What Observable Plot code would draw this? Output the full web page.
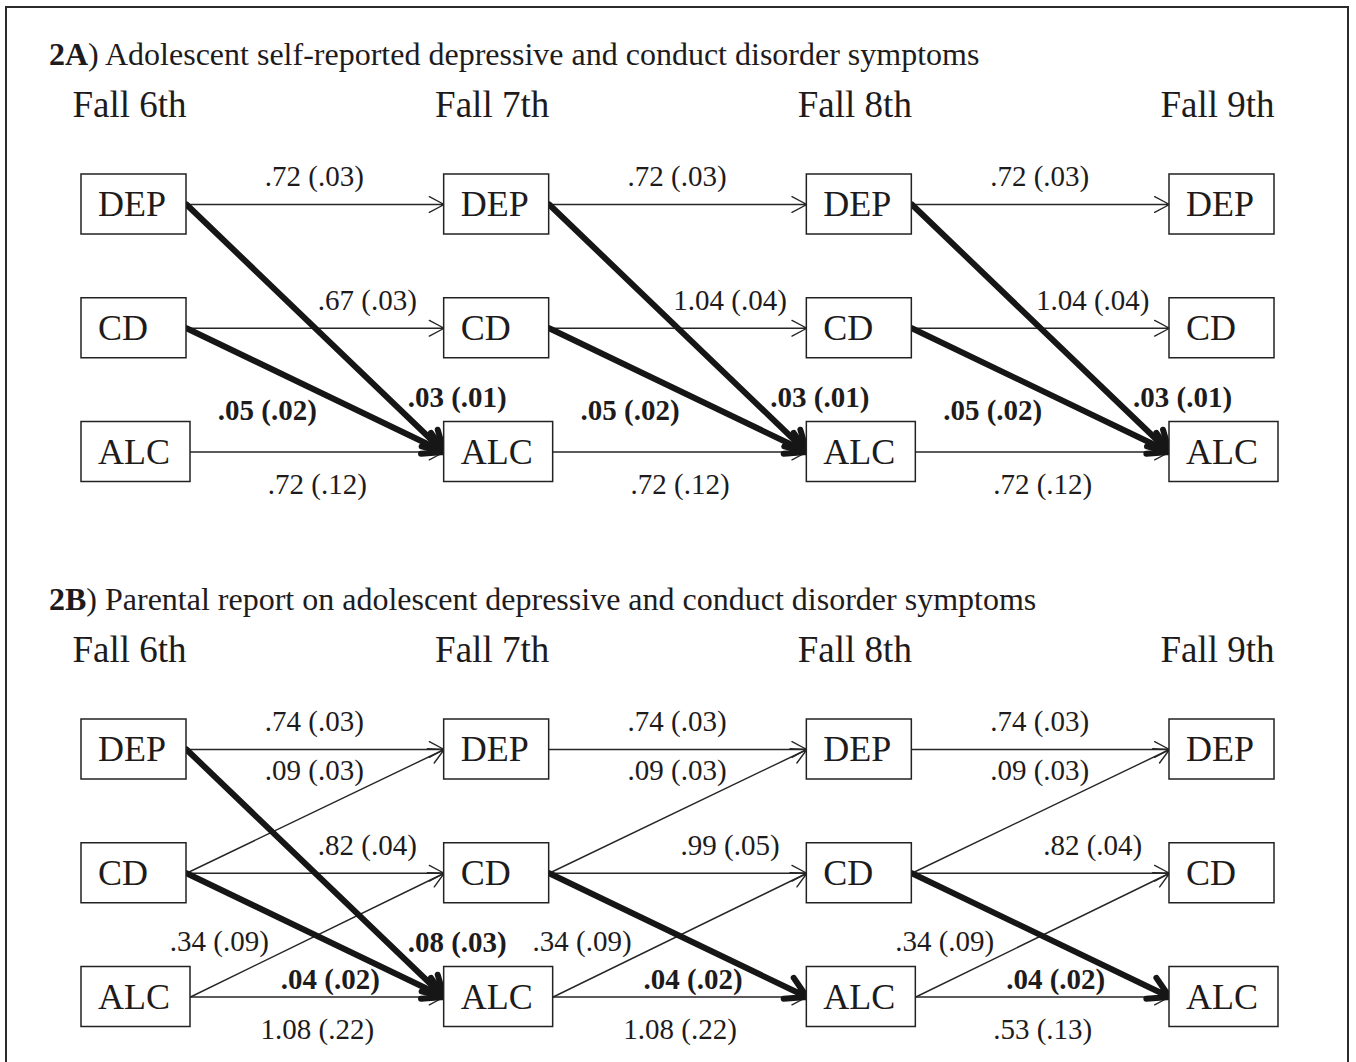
<!DOCTYPE html>
<html>
<head>
<meta charset="utf-8">
<script src="https://cdn.jsdelivr.net/npm/d3@7"></script>
<script src="https://cdn.jsdelivr.net/npm/@observablehq/plot@0.6"></script>
<style>
  body { margin: 0; background: #fff; }
  #page { position: relative; width: 1356px; height: 1062px; overflow: hidden; background: #fff;
          font-family: "Liberation Serif", "Times New Roman", serif; color: #1e1b1c; }
  .frame { position: absolute; left: 5px; top: 6px; width: 1340px; height: 1200px;
           border: 2px solid #2b2b2b; border-bottom: none; pointer-events: none; }
  .panel { position: absolute; left: 0; width: 1356px; }
  .title { height: 70px; box-sizing: border-box; padding-top: 38px; padding-left: 49px;
           font-size: 32px; line-height: 32px; white-space: nowrap; }
  .panel svg { display: block; }
</style>
</head>
<body>
<div id="page"><div class="frame"></div></div>
<script>
// ---------------- data ----------------
const waves = ["Fall 6th", "Fall 7th", "Fall 8th", "Fall 9th"];
const variables = ["DEP", "CD", "ALC"];

// Panel 2A: adolescent self-report (estimate, standard error) for lags 6th→7th, 7th→8th, 8th→9th
const titleA = "Adolescent self-reported depressive and conduct disorder symptoms";
const aDepDep = {est: [0.72, 0.72, 0.72], se: [0.03, 0.03, 0.03]};
const aCdCd   = {est: [0.67, 1.04, 1.04], se: [0.03, 0.04, 0.04]};
const aAlcAlc = {est: [0.72, 0.72, 0.72], se: [0.12, 0.12, 0.12]};
const aDepAlc = {est: [0.03, 0.03, 0.03], se: [0.01, 0.01, 0.01]};
const aCdAlc  = {est: [0.05, 0.05, 0.05], se: [0.02, 0.02, 0.02]};

// Panel 2B: parental report
const titleB = "Parental report on adolescent depressive and conduct disorder symptoms";
const bDepDep = {est: [0.74, 0.74, 0.74], se: [0.03, 0.03, 0.03]};
const bCdDep  = {est: [0.09, 0.09, 0.09], se: [0.03, 0.03, 0.03]};
const bCdCd   = {est: [0.82, 0.99, 0.82], se: [0.04, 0.05, 0.04]};
const bAlcCd  = {est: [0.34, 0.34, 0.34], se: [0.09, 0.09, 0.09]};
const bAlcAlc = {est: [1.08, 1.08, 0.53], se: [0.22, 0.22, 0.13]};
const bDepAlc = {est: [0.08, null, null], se: [0.03, null, null]};
const bCdAlc  = {est: [0.04, 0.04, 0.04], se: [0.02, 0.02, 0.02]};

// ---------------- layout helpers ----------------
const PX = 3 / (1169 - 81);            // x data units per pixel
const RY = 1 / 123.75;                 // row units per pixel
const boxW = v => (v === "ALC" ? 109 : 105) * PX;
const boxH = 30 * RY;
const row = v => variables.indexOf(v);
const fmt = v => v.toFixed(2).replace(/^0\./, ".");
const FONT = "Liberation Serif, Times New Roman, serif";
const INK = "#1e1b1c";

const panels = [
  {id: "2A", title: titleA, top: 0, paths: [
    {from: "DEP", to: "DEP", ...aDepDep},
    {from: "CD", to: "CD", ...aCdCd},
    {from: "ALC", to: "ALC", ...aAlcAlc},
    {from: "DEP", to: "ALC", sig: true, ...aDepAlc},
    {from: "CD", to: "ALC", sig: true, ...aCdAlc}
  ], cdAlc: {dx: -48, dy: -41.5}},
  {id: "2B", title: titleB, top: 545, paths: [
    {from: "DEP", to: "DEP", ...bDepDep},
    {from: "CD", to: "DEP", ...bCdDep},
    {from: "CD", to: "CD", ...bCdCd},
    {from: "ALC", to: "CD", ...bAlcCd},
    {from: "ALC", to: "ALC", ...bAlcAlc},
    {from: "DEP", to: "ALC", sig: true, ...bDepAlc},
    {from: "CD", to: "ALC", sig: true, ...bCdAlc}
  ], cdAlc: {dx: 15, dy: -17.5}}
];

function buildEdges(paths) {
  const edges = [];
  for (const p of paths) {
    for (let i = 0; i < waves.length - 1; i++) {
      if (p.est[i] == null) continue;
      edges.push({
        kind: p.from + ">" + p.to, sig: !!p.sig, lag: i,
        label: `${fmt(p.est[i])} (${fmt(p.se[i])})`,
        x1: i + boxW(p.from), y1: row(p.from), x2: i + 1, y2: row(p.to),
        mid: i + (boxW("DEP") + 1) / 2
      });
    }
  }
  return edges;
}

const nodes = waves.flatMap((w, i) => variables.map(v => ({wave: w, i, v})));

function panelPlot(panel) {
  const edges = buildEdges(panel.paths);
  const placement = {
    "DEP>DEP": {x: "mid", row: "DEP", dx: -1, dy: -28},
    "CD>CD":   {x: "mid", row: "CD", dx: 52, dy: -28},
    "ALC>ALC": {x: "mid", row: "ALC", dx: 2, dy: 33},
    "CD>DEP":  {x: "mid", row: "DEP", dx: -1, dy: 21},
    "ALC>CD":  {x: "mid", row: "ALC", dx: -96, dy: -55.5},
    "DEP>ALC": {x: "x2", row: "ALC", dx: 13, dy: -54.5},
    "CD>ALC":  {x: "mid", row: "ALC", ...panel.cdAlc}
  };
  const labelMarks = Object.entries(placement).map(([kind, p]) => {
    const sel = edges.filter(e => e.kind === kind);
    return Plot.text(sel, {
      x: p.x, y: () => row(p.row), text: "label", dx: p.dx, dy: p.dy,
      fontSize: 29, fontFamily: FONT, fill: INK,
      fontWeight: sel.length && sel[0].sig ? "bold" : "normal"
    });
  });
  return Plot.plot({
    width: 1356, height: 475, margin: 0,
    x: {domain: [0, 3], range: [81, 1169], axis: null},
    y: {domain: [0, 2], range: [134, 381.5], axis: null},
    style: {fontFamily: FONT, background: "transparent", color: INK},
    marks: [
      Plot.arrow(edges.filter(e => !e.sig), {
        x1: "x1", y1: "y1", x2: "x2", y2: "y2",
        stroke: "#262626", strokeWidth: 1.4, headLength: 18, headAngle: 56
      }),
      Plot.arrow(edges.filter(e => e.sig), {
        x1: "x1", y1: "y1", x2: "x2", y2: "y2",
        stroke: "#161616", strokeWidth: 6, headLength: 5.8, headAngle: 60
      }),
      Plot.rect(nodes, {
        x1: d => d.i, x2: d => d.i + boxW(d.v),
        y1: d => row(d.v) - boxH, y2: d => row(d.v) + boxH,
        fill: "white", stroke: "#222", strokeWidth: 1.5
      }),
      Plot.text(nodes, {
        x: "i", y: d => row(d.v), text: "v", dx: 16.5, textAnchor: "start",
        fontSize: 36, fontFamily: FONT, fill: INK
      }),
      Plot.text(waves, {
        x: (d, i) => i, frameAnchor: "top", lineAnchor: "middle", text: d => d, dx: 48, dy: 35,
        fontSize: 37, fontFamily: FONT, fill: INK
      }),
      ...labelMarks
    ]
  });
}

const page = document.getElementById("page");
for (const panel of panels) {
  const div = document.createElement("div");
  div.className = "panel";
  div.style.top = panel.top + "px";
  const t = document.createElement("div");
  t.className = "title";
  const b = document.createElement("b");
  b.textContent = panel.id;
  t.appendChild(b);
  t.appendChild(document.createTextNode(") " + panel.title));
  div.appendChild(t);
  div.appendChild(panelPlot(panel));
  page.insertBefore(div, page.firstChild);
}
</script>
</body>
</html>
